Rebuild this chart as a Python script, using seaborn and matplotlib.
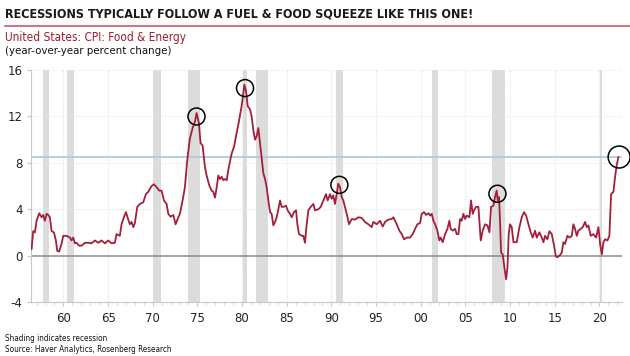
import numpy as np
import pandas as pd
import seaborn as sns
import matplotlib.pyplot as plt

sns.set_style('white')
plt.rcParams['font.family'] = ['Liberation Sans Narrow', 'DejaVu Sans']

# CPI: Food & Energy, y/y % change
years = [
    1956.44, 1956.62, 1956.81, 1957.0, 1957.3, 1957.56, 1957.74, 1957.93, 1958.12, 1958.3,
    1958.49, 1958.68, 1958.94, 1959.16, 1959.31, 1959.53, 1959.79, 1959.98, 1960.35, 1960.73,
    1960.91, 1961.1, 1961.29, 1961.47, 1961.74, 1962.03, 1962.41, 1962.78, 1963.15, 1963.53,
    1963.9, 1964.27, 1964.65, 1965.02, 1965.39, 1965.76, 1965.95, 1966.32, 1966.51, 1966.77,
    1967.0, 1967.26, 1967.44, 1967.63, 1967.82, 1968.0, 1968.27, 1968.56, 1968.94, 1969.24,
    1969.5, 1969.87, 1970.13, 1970.43, 1970.73, 1970.99, 1971.25, 1971.55, 1971.74, 1972.0,
    1972.3, 1972.56, 1972.86, 1973.04, 1973.34, 1973.6, 1973.86, 1974.16, 1974.46, 1974.72,
    1974.91, 1975.17, 1975.35, 1975.58, 1975.84, 1976.03, 1976.33,
    1976.41, 1976.6, 1976.78, 1976.97, 1977.16, 1977.34, 1977.53, 1977.72, 1977.9, 1978.09,
    1978.28, 1978.46, 1978.83, 1979.1, 1979.32, 1979.58, 1979.77, 1979.95, 1980.14, 1980.25,
    1980.44, 1980.63, 1980.89, 1981.07, 1981.26, 1981.45, 1981.63, 1981.82, 1982.01, 1982.19,
    1982.38, 1982.57, 1982.75, 1982.94, 1983.13, 1983.31, 1983.5, 1983.69, 1983.87, 1984.06,
    1984.25, 1984.43, 1984.62, 1984.92, 1985.1, 1985.36, 1985.55, 1985.81, 1986.04, 1986.19,
    1986.37, 1986.67, 1986.86, 1987.04, 1987.23, 1987.42, 1987.68, 1987.98, 1988.16, 1988.54,
    1988.8, 1989.1, 1989.39, 1989.58, 1989.84, 1990.03, 1990.21, 1990.4, 1990.59, 1990.77,
    1990.96, 1991.15, 1991.33, 1991.71, 1991.97, 1992.27, 1992.64, 1993.01, 1993.39, 1993.76,
    1994.13, 1994.51, 1994.69, 1995.07, 1995.44, 1995.74, 1996.0, 1996.37, 1996.75, 1996.93,
    1997.31, 1997.6, 1997.87, 1998.13, 1998.42, 1998.8,
    1999.1, 1999.36, 1999.62, 1999.92, 2000.11, 2000.37, 2000.59, 2000.85, 2001.04, 2001.23,
    2001.41, 2001.6, 2001.86, 2002.08, 2002.23, 2002.46, 2002.72, 2002.98, 2003.2, 2003.35,
    2003.58, 2003.84, 2004.02, 2004.21, 2004.4, 2004.58, 2004.77, 2004.96, 2005.14, 2005.44,
    2005.63, 2005.81, 2005.96, 2006.19, 2006.45, 2006.71, 2006.93, 2007.2, 2007.46, 2007.68,
    2007.87, 2008.13, 2008.31, 2008.5, 2008.61, 2008.76, 2008.87, 2008.99, 2009.17, 2009.36,
    2009.55, 2009.7, 2009.84, 2009.99, 2010.18, 2010.37, 2010.74, 2011.04, 2011.3, 2011.56,
    2011.79, 2012.05, 2012.31, 2012.53, 2012.79, 2012.98, 2013.28, 2013.54, 2013.73, 2013.91,
    2014.17, 2014.4, 2014.66, 2014.92, 2015.11, 2015.29, 2015.59, 2015.78, 2015.96, 2016.15,
    2016.41, 2016.64, 2016.9, 2017.08, 2017.27, 2017.46, 2017.64, 2017.9, 2018.13, 2018.39,
    2018.58, 2018.76, 2019.02, 2019.32, 2019.62, 2019.88, 2020.07, 2020.26, 2020.44, 2020.63,
    2020.89, 2021.11, 2021.3, 2021.56, 2021.75, 2021.93, 2022.12,
]
cpi = [
    0.55, 2.1, 2.0, 3.0, 3.65, 3.3, 3.5, 3.0, 3.6, 3.5,
    3.3, 2.1, 2.0, 1.3, 0.4, 0.35, 1.0, 1.7, 1.7, 1.55,
    1.3, 1.55, 1.05, 1.1, 0.85, 0.85, 1.1, 1.1, 1.05, 1.3,
    1.1, 1.3, 1.05, 1.3, 1.05, 1.1, 1.85, 1.7, 2.7, 3.3,
    3.75, 3.1, 2.7, 2.9, 2.45, 2.8, 4.2, 4.45, 4.6, 5.3,
    5.5, 6.0, 6.15, 5.9, 5.6, 5.6, 4.75, 4.45, 3.6, 3.35,
    3.5, 2.7, 3.3, 3.6, 4.75, 5.9, 8.2, 10.1, 11.0, 11.55,
    12.3, 11.4, 9.7, 9.5, 7.65, 6.9, 6.05,
    5.9, 5.6, 5.5, 5.0, 5.9, 6.9, 6.6, 6.8, 6.5, 6.6,
    6.5, 7.4, 8.8, 9.4, 10.3, 11.3, 12.1, 12.9, 14.0, 14.75,
    14.2, 12.9, 12.6, 12.0, 10.8, 10.0, 10.3, 11.0, 9.7, 8.5,
    7.1, 6.6, 5.9, 4.75, 3.75, 3.6, 2.6, 2.9, 3.3, 4.0,
    4.75, 4.2, 4.2, 4.3, 3.9, 3.6, 3.3, 3.75, 3.9, 2.7,
    1.85, 1.7, 1.7, 1.1, 2.7, 3.9, 4.2, 4.45, 3.9, 4.0,
    4.2, 4.75, 5.3, 4.75, 5.3, 4.9, 5.2, 4.45, 5.3, 6.2,
    5.9, 5.05, 4.75, 3.6, 2.7, 3.15, 3.1, 3.3, 3.25, 2.9,
    2.7, 2.45, 2.9, 2.7, 3.0, 2.5, 2.9, 3.1, 3.15, 3.3,
    2.7, 2.15, 1.85, 1.4, 1.55, 1.55,
    1.85, 2.3, 2.7, 2.8, 3.6, 3.75, 3.5, 3.65, 3.45, 3.6,
    3.0, 2.7, 2.15, 1.3, 1.55, 1.15, 1.85, 2.3, 3.0, 2.3,
    2.15, 2.3, 1.85, 1.85, 3.15, 3.0, 3.6, 3.15, 3.45, 3.3,
    4.75, 3.6, 3.9, 4.2, 4.2, 1.3, 2.15, 2.7, 2.6, 2.0,
    4.2, 4.3, 5.05, 5.6, 4.75, 5.05, 2.9, 0.25, 0.1, -1.05,
    -2.05, -1.05, 1.85, 2.7, 2.45, 1.15, 1.15, 2.45, 3.3, 3.75,
    3.45, 2.7, 2.0, 1.55, 2.15, 1.55, 2.0, 1.55, 1.15, 1.7,
    1.4, 2.1, 1.85, 0.85, -0.05, -0.15, 0.05, 0.25, 1.15, 1.0,
    1.7, 1.55, 1.7, 2.7, 2.3, 1.7, 2.15, 2.3, 2.45, 2.9,
    2.45, 2.6, 1.7, 1.85, 1.55, 2.45, 1.0, 0.1, 1.15, 1.4,
    1.3, 1.7, 5.3, 5.5, 6.8, 7.8, 8.5,
]

# NBER recessions
rec_start = [1957.75, 1960.45, 1970.0, 1973.95, 1980.05, 1981.6, 1990.55, 2001.2, 2007.95, 2020.07]
rec_end = [1958.35, 1961.15, 1970.9, 1975.25, 1980.6, 1982.95, 1991.25, 2001.9, 2009.45, 2020.3]

# circled peaks
peak_x = [1974.9, 1980.33, 1990.89, 2008.58]
peak_y = [12.0, 14.45, 6.1, 5.33]
last_x = [2022.2]
last_y = [8.5]
ref_level = 8.5

df = pd.DataFrame({'year': years, 'cpi': cpi})

fig = plt.figure(figsize=(6.3, 3.56), dpi=100)
ax = fig.add_axes([0.049, 0.152, 0.938, 0.651])

for s, e in zip(rec_start, rec_end):
    ax.axvspan(s, e, color='#dcdcdc', lw=0, zorder=0)

for yv in [4, 8, 12, 16]:
    ax.axhline(yv, color='#e2e2e2', lw=0.8, ls=(0, (1, 1.5)), zorder=0.5)
for xv in range(1960, 2021, 5):
    ax.axvline(xv, color='#e2e2e2', lw=0.8, ls=(0, (1, 1.5)), zorder=0.5)

ax.axhline(0, color='#8a8a8a', lw=1.1, zorder=1)
ax.axhline(ref_level, color='#b8c8da', lw=1.3, zorder=1)

sns.lineplot(data=df, x='year', y='cpi', ax=ax, color='#a31f3a', lw=1.3, zorder=3)

ax.scatter(peak_x, peak_y, s=150, facecolors='none', edgecolors='black', linewidths=1.1, zorder=4)
ax.scatter(last_x, last_y, s=250, facecolors='none', edgecolors='black', linewidths=1.1, zorder=4, clip_on=False)

ax.set_xlim(1956.36, 2022.5)
ax.set_ylim(-4, 16)
ax.set_yticks([-4, 0, 4, 8, 12, 16])
ax.set_yticklabels(['-4', '0', '4', '8', '12', '16'])
ax.set_xticks(range(1960, 2021, 5))
ax.set_xticklabels([f'{y % 100:02d}' for y in range(1960, 2021, 5)])
ax.set_xticks(range(1957, 2023), minor=True)
ax.set_xlabel('')
ax.set_ylabel('')

for side in ['top', 'right']:
    ax.spines[side].set_visible(False)
for side in ['left', 'bottom']:
    ax.spines[side].set_color('#c8c8c8')
    ax.spines[side].set_linewidth(0.8)
ax.tick_params(axis='y', which='major', left=True, length=3, color='#c8c8c8', labelsize=8.5, pad=3, labelcolor='#222222')
ax.tick_params(axis='x', which='major', bottom=True, length=3, color='#c8c8c8', labelsize=8.5, pad=4, labelcolor='#222222')
ax.tick_params(axis='x', which='minor', bottom=True, length=2, color='#d0d0d0')

# header / footer texts, shrunk to the widths they take in the original
renderer = fig.canvas.get_renderer()


def fit_text(x, y, s, width_px, size, **kw):
    t = fig.text(x, y, s, fontsize=size, fontstretch='condensed', va='center', ha='left', **kw)
    w = t.get_window_extent(renderer=renderer).width
    if w > width_px:
        t.set_fontsize(size * width_px / w)
    return t


fit_text(0.008, 0.962, 'RECESSIONS TYPICALLY FOLLOW A FUEL & FOOD SQUEEZE LIKE THIS ONE!', 471, 12.5,
         fontweight='bold', color='#1a1a1a')
fig.add_artist(plt.Line2D([0.008, 1.0], [0.928, 0.928], color='#c97a82', lw=1.5))
fit_text(0.008, 0.896, 'United States: CPI: Food & Energy', 180, 9.5, color='#9c1b30')
fit_text(0.008, 0.857, '(year-over-year percent change)', 167, 9.5, color='#111111')
fit_text(0.008, 0.05, 'Shading indicates recession', 103, 6.5, color='#111111')
fit_text(0.008, 0.017, 'Source: Haver Analytics, Rosenberg Research', 168, 6.5, color='#111111')

fig.savefig('out.png', dpi=100)
